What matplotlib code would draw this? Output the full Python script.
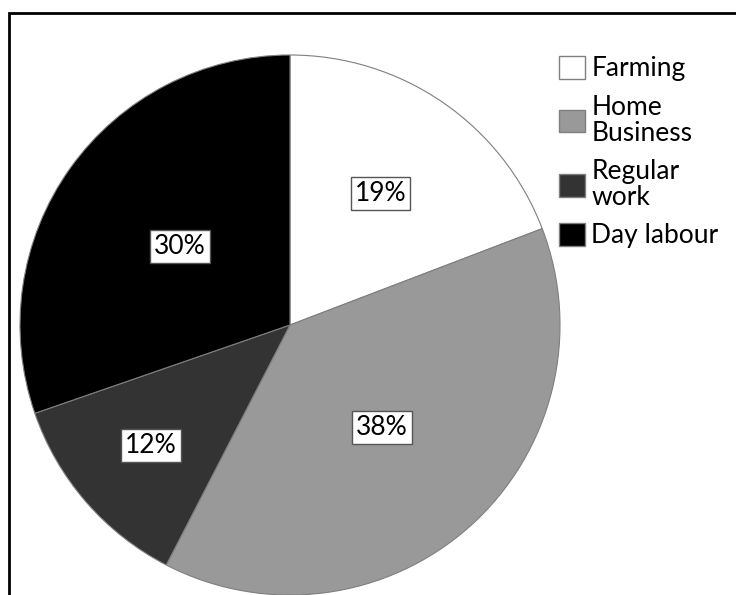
import numpy as np
import matplotlib
matplotlib.use("Agg")
import matplotlib.pyplot as plt
from matplotlib.patches import Rectangle, Patch

plt.rcParams['font.family'] = ['Lato', 'DejaVu Sans']

labels = ["Farming", "Home\nBusiness", "Regular\nwork", "Day labour"]
shares = [19, 38, 12, 30]
colors = ["#ffffff", "#999999", "#333333", "#000000"]
# how far out each percentage label sits (fraction of radius)
label_dist = [0.59, 0.51, 0.68, 0.50]

W, H = 736, 595
fig = plt.figure(figsize=(W / 100, H / 100), dpi=100)

# pie occupies a 540px square centred near (290, 325)
ax = fig.add_axes([20 / W, 0 / H, 540 / W, 540 / H])
wedges, texts, autotexts = ax.pie(
    shares, colors=colors, startangle=90, counterclock=False,
    autopct="%d%%", pctdistance=0.6, radius=1,
    wedgeprops=dict(edgecolor="#7f7f7f", linewidth=0.8),
)
for w, t, d in zip(wedges, autotexts, label_dist):
    mid = np.deg2rad((w.theta1 + w.theta2) / 2)
    t.set_position((d * np.cos(mid), d * np.sin(mid)))
    t.set_fontsize(19)
    t.set_color("black")
    t.set_bbox(dict(facecolor="white", edgecolor="#555555", linewidth=1,
                    boxstyle="square,pad=0.15"))
ax.set_xlim(-1, 1)
ax.set_ylim(-1, 1)
ax.set_aspect("equal")
ax.axis("off")

handles = [Patch(facecolor=c, edgecolor="#7f7f7f", linewidth=1) for c in colors]
leg = fig.legend(handles, labels, loc="upper left",
                 bbox_to_anchor=(559 / W, 1 - 56 / H),
                 frameon=False, fontsize=19, handlelength=1.0,
                 handleheight=0.95, handletextpad=0.22, labelspacing=0.5,
                 borderaxespad=0, borderpad=0)
for t in leg.get_texts():
    t.set_linespacing(1.05)

# outer frame (cropped on right and bottom)
fig.patches.append(Rectangle((9 / W, -0.2), 1.5, 1.2 - 13 / H,
                             transform=fig.transFigure, fill=False,
                             edgecolor="black", linewidth=2))

fig.savefig("out.png", dpi=100)
